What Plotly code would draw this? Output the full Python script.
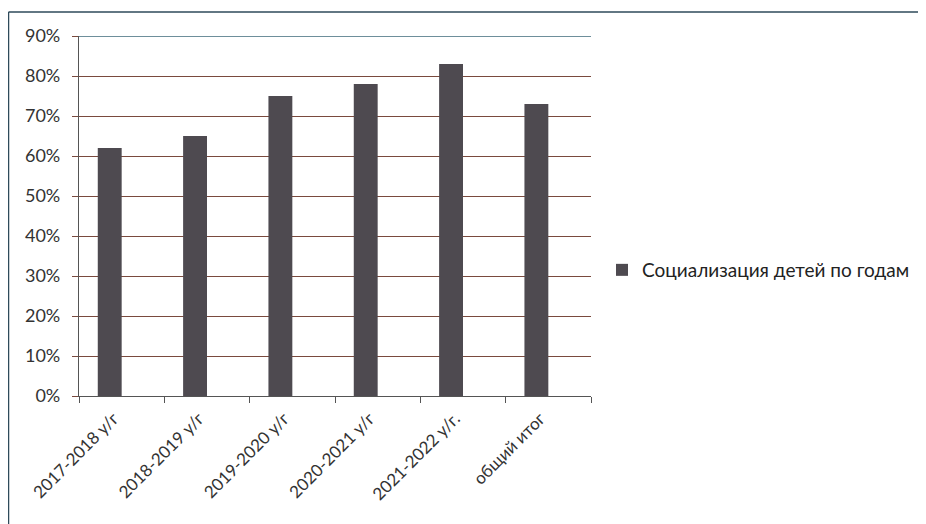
import plotly.graph_objects as go

categories = ["2017-2018 у/г", "2018-2019 у/г", "2019-2020 у/г", "2020-2021 у/г", "2021-2022 у/г.", "общий итог"]
values = [0.62, 0.65, 0.75, 0.78, 0.83, 0.73]
series_name = "Социализация детей по годам"
y_ticks = [0, 0.1, 0.2, 0.3, 0.4, 0.5, 0.6, 0.7, 0.8, 0.9]

OFF = 8  # page body margin
W, H = 926 - OFF, 524 - OFF
L, T = 79 - OFF, 36 - OFF
R = W - (591 - OFF)
B = H - (396 - OFF)
pw = W - L - R
ph = H - T - B

grid_color = "#7a4a3e"
frame_color = "#2e4a5a"

fig = go.Figure()
fig.add_trace(go.Bar(
    x=categories, y=values, name=series_name,
    marker=dict(color="#4e4a50", line=dict(width=0)),
    width=0.28, offset=-0.28, showlegend=True,
))

def px_x(v):
    return (v - OFF - L) / pw

def px_y(v):
    return (H - B - (v - OFF)) / ph

# outer chart frame (top and left edges visible in the scan)
fig.add_shape(type="line", xref="paper", yref="paper",
              x0=px_x(8.5), x1=px_x(960), y0=px_y(12), y1=px_y(12),
              line=dict(color=frame_color, width=1.5), layer="below")
fig.add_shape(type="line", xref="paper", yref="paper",
              x0=px_x(8.5), x1=px_x(8.5), y0=px_y(12), y1=px_y(540),
              line=dict(color=frame_color, width=1.5), layer="below")
# top gridline
fig.add_shape(type="line", xref="paper", yref="y",
              x0=px_x(72), x1=1, y0=y_ticks[-1], y1=y_ticks[-1],
              line=dict(color="#3e6a7a", width=1.3), layer="below")

fig.update_layout(
    width=W, height=H,
    margin=dict(l=L, r=R, t=T, b=B, autoexpand=False),
    paper_bgcolor="white", plot_bgcolor="white",
    font=dict(family="Lato", size=16, color="#333333"),
    showlegend=True,
    legend=dict(x=px_x(602), y=px_y(270), xanchor="left", yanchor="middle",
                font=dict(size=19, color="#222222"),
                bgcolor="rgba(0,0,0,0)"),
    xaxis=dict(showline=True, linecolor="#555555", linewidth=1.2, automargin=False,
               ticks="outside", tickson="boundaries", ticklen=6, tickcolor="#555555",
               tickangle=-45, tickfont=dict(size=17, color="#333333"),
               ticklabelshift=-8, ticklabelstandoff=5, showgrid=False),
    yaxis=dict(range=[0, 0.9], tickvals=y_ticks, tickformat=".0%", automargin=False,
               showline=True, linecolor="#555555", linewidth=1.2,
               ticks="outside", ticklen=6, tickcolor=grid_color,
               ticklabelstandoff=8,
               showgrid=True, gridcolor=grid_color, gridwidth=1.3,
               zeroline=False, tickfont=dict(size=18, color="#333333")),
)

fig.write_html("out.html")
